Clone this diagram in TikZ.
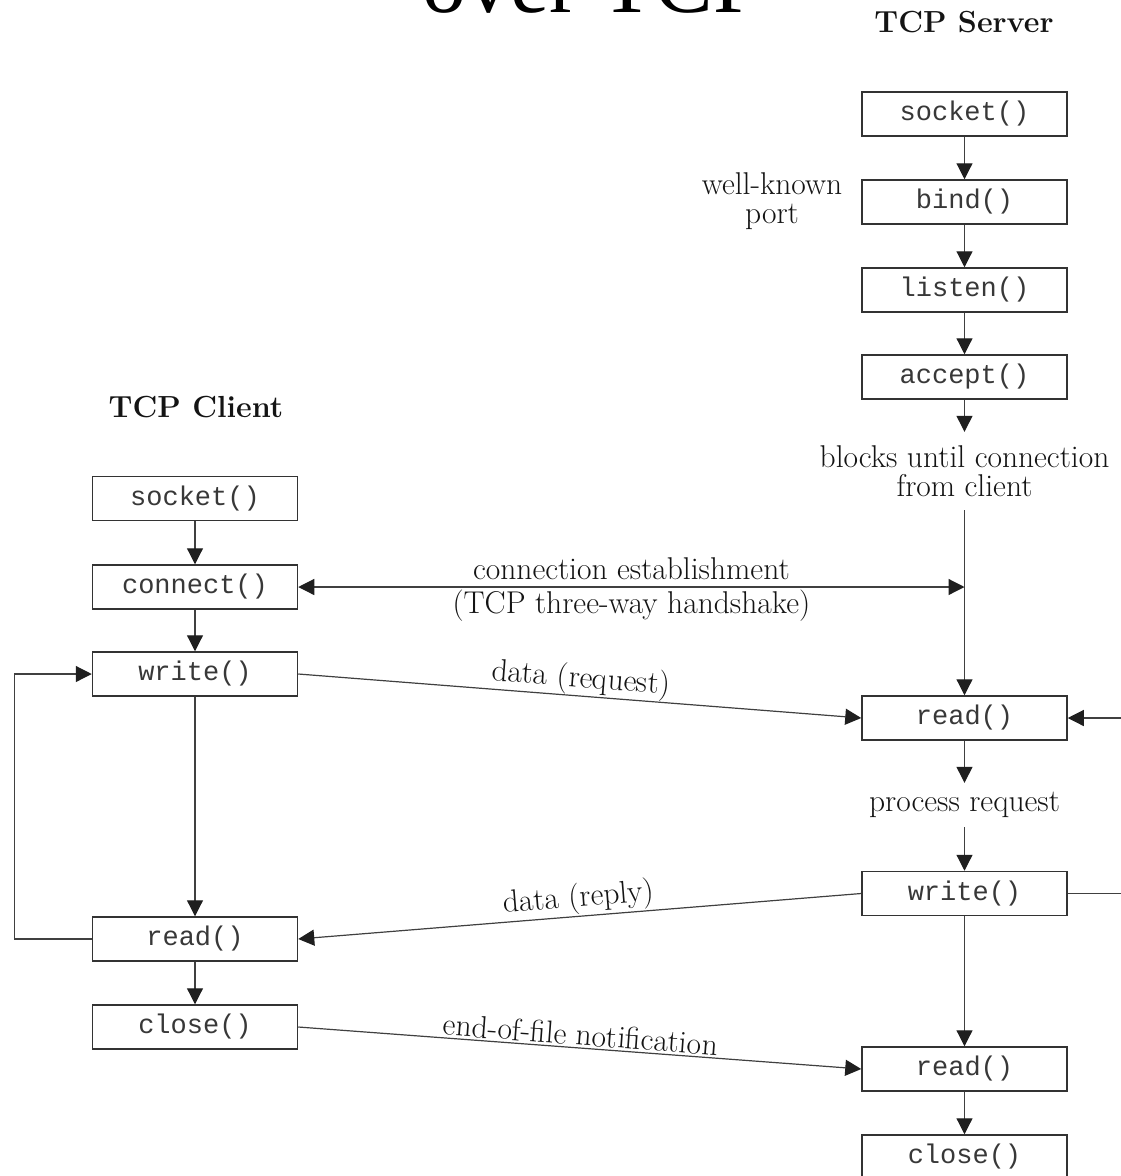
\documentclass[tikz,border=0pt]{standalone}
\usepackage{fontspec}
\newfontfamily\boxfont{Liberation Mono}
\newfontfamily\titlefont{Liberation Serif}
\usetikzlibrary{arrows.meta,calc}
\begin{document}
\begin{tikzpicture}[x=1pt,y=-1pt,
  box/.style={draw=black!80, line width=1.5pt, minimum width=205pt, minimum height=44pt,
    inner sep=0pt, font=\boxfont\fontsize{27}{30}\selectfont, text=black!78},
  lbl/.style={font=\fontsize{31.5}{29}\selectfont, text=black!92},
  head/.style={font=\bfseries\fontsize{30.5}{32}\selectfont, text=black!92},
  conn/.style={draw=black!75, line width=1.2pt},
  tip/.tip={Triangle[length=16pt,width=16pt,color=black!88]},
  arr/.style={conn, -tip},
  darr/.style={conn, tip-tip}]
\useasboundingbox (0,0) rectangle (1120,1176);
\fill[white] (0,0) rectangle (1120,1176);

% title (cut off at top)
\node[font=\titlefont\fontsize{88}{88}\selectfont, anchor=base west, inner sep=0pt] (title) at (422,12.5) {over TCP};

% server column
\node[head] (srvtitle) at (964,22) {TCP Server};
\node[box] (ssocket) at (964.5,114) {socket()};
\node[box] (sbind) at (964.5,202) {bind()};
\node[box] (slisten) at (964.5,290) {listen()};
\node[box] (saccept) at (964.5,377) {accept()};
\node[lbl, align=center, inner sep=0pt, minimum height=78pt] (blocks) at (964.5,471) {blocks until connection\\from client};
\node[box] (sread) at (964.5,718) {read()};
\node[lbl, inner sep=0pt, minimum height=44pt] (proc) at (964.5,805) {process request};
\node[box] (swrite) at (964.5,893.5) {write()};
\node[box] (sread2) at (964.5,1069) {read()};
\node[box] (sclose) at (964.5,1157) {close()};
\node[lbl, align=center] (wkp) at (772,201) {well-known\\port};

% client column
\node[head] (clititle) at (196,407) {TCP Client};
\node[box] (csocket) at (195,498.5) {socket()};
\node[box] (cconnect) at (195,587) {connect()};
\node[box] (cwrite) at (195,674) {write()};
\node[box] (cread) at (195,939) {read()};
\node[box] (cclose) at (195,1027) {close()};

% server flow
\draw[arr] (ssocket) -- (sbind);
\draw[arr] (sbind) -- (slisten);
\draw[arr] (slisten) -- (saccept);
\draw[arr] (saccept) -- (blocks);
\draw[arr] (blocks) -- (sread);
\draw[arr] (sread) -- (proc);
\draw[arr] (proc) -- (swrite);
\draw[arr] (swrite) -- (sread2);
\draw[arr] (sread2) -- (sclose);

% client flow
\draw[arr] (csocket) -- (cconnect);
\draw[arr] (cconnect) -- (cwrite);
\draw[arr] (cwrite) -- (cread);
\draw[arr] (cread) -- (cclose);
\draw[arr] (cread.west) -- ++(-77,0) |- (cwrite.west);

% right-side loop (cut by the edge)
\coordinate (rin) at (1125,718);
\coordinate (rout) at (1125,893.5);
\draw[conn] (swrite.east) -- (rout);
\draw[arr] (rin) -- (sread.east);

% exchanges
\draw[darr] (cconnect.east) -- (cconnect.east -| blocks.south)
  node[lbl, midway, above, inner sep=6.5pt] {connection establishment}
  node[lbl, midway, below, inner sep=2.5pt] {(TCP three-way handshake)};
\draw[arr] (cwrite.east) -- (sread.west)
  node[lbl, pos=0.5, sloped, above, inner sep=0pt] {data (request)};
\draw[arr] (swrite.west) -- (cread.east)
  node[lbl, pos=0.5, sloped, above, inner sep=1pt] {data (reply)};
\draw[arr] (cclose.east) -- (sread2.west)
  node[lbl, pos=0.5, sloped, above, inner sep=2pt] {end-of-file notification};
\end{tikzpicture}
\end{document}
